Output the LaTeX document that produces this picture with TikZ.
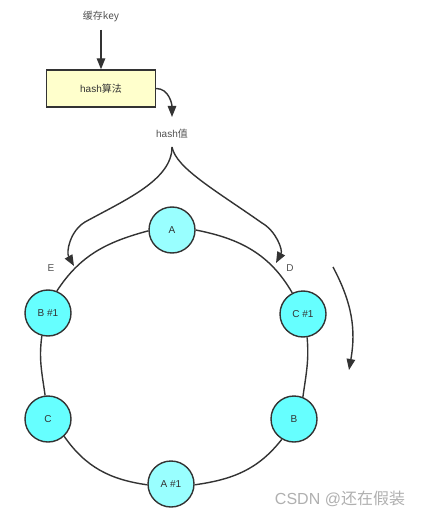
\documentclass[tikz,border=0pt]{standalone}
\usepackage{fontspec}
\setmainfont{Liberation Sans}
\newfontfamily\cjk{Noto Sans CJK SC}
\usetikzlibrary{arrows.meta}
\definecolor{linec}{HTML}{333333}
\definecolor{txtc}{HTML}{333333}
\definecolor{cyanA}{HTML}{99FFFF}
\definecolor{cyanB}{HTML}{66FFFF}
\definecolor{boxy}{HTML}{FFFFCC}
\definecolor{wmc}{HTML}{B0B0B0}
\tikzset{
  ln/.style={draw=linec, line width=1.4pt},
  arr/.style={ln, -{Triangle[length=11pt,width=8.5pt]}},
  ringnode/.style={circle, draw=linec, line width=1.4pt, minimum size=46pt, inner sep=0pt, fill=cyanB, text=txtc, font=\fontsize{10}{12}\selectfont},
  lbl/.style={text=txtc!85, font=\fontsize{10}{12}\selectfont, inner sep=1pt},
  wm/.style={text=wmc, font=\fontsize{16}{18}\selectfont, inner sep=0pt}
}
\begin{document}
\begin{tikzpicture}[x=1pt,y=1pt]
\useasboundingbox (0,0) rectangle (423,-518);
\fill[white] (0,0) rectangle (423,-518);
% top
\node[lbl] (key) at (101,-16) {\cjk{缓存}key};
\node[draw=linec, line width=1.4pt, fill=boxy, minimum width=109pt, minimum height=37pt, text=txtc, font=\fontsize{10}{12}\selectfont] (hash) at (101,-88.5) {hash\cjk{算法}};
\node[lbl] (hv) at (172,-134) {hash\cjk{值}};
\coordinate (keyb) at (101,-30);
\coordinate (hvtip) at (172,-117);
\draw[arr] (keyb) -- (hash.north);
\draw[arr] (hash.east) to[out=0,in=90] (hvtip);
% ring nodes
\node[ringnode, fill=cyanA] (A) at (172,-230) {A};
\node[ringnode] (B1) at (48,-313) {B \#1};
\node[ringnode] (C1) at (303,-314) {C \#1};
\node[ringnode] (C) at (48,-419) {C};
\node[ringnode] (B) at (294,-419) {B};
\node[ringnode, fill=cyanA] (A1) at (171,-484) {A \#1};
% ring arcs
\draw[ln] (A.182) to[out=195,in=57] (B1.68);
\draw[ln] (B1.255) to[out=262,in=98] (C.97);
\draw[ln] (C.313) to[out=305,in=172] (A1.182);
\draw[ln] (A1.358) to[out=8,in=232] (B.239);
\draw[ln] (B.68) to[out=82,in=275] (C1.280);
\draw[ln] (C1.117) to[out=120,in=349] (A.0);
% split arrows
\coordinate (split) at (172,-147);
\coordinate (Etip) at (74,-266);
\coordinate (Dtip) at (276,-263);
\draw[arr] (split) .. controls (172,-180) and (125,-200) .. (85,-222) .. controls (70,-231) and (66,-252) .. (Etip);
\draw[arr] (split) .. controls (176,-168) and (215,-190) .. (262,-223) .. controls (276,-231) and (283,-250) .. (Dtip);
\node[lbl] (E) at (51,-268) {E};
\node[lbl] (D) at (290,-268) {D};
% rotation arrow
\coordinate (rs) at (333,-267);
\coordinate (re) at (349,-370);
\draw[arr] (rs) to[out=-62,in=80] (re);
% watermark
\node[wm] (wmk) at (340,-499) {CSDN @\cjk{还在假装}};
\end{tikzpicture}
\end{document}
